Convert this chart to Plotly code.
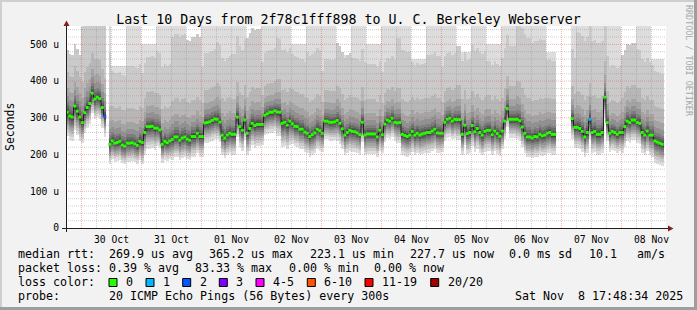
import plotly.graph_objects as go
import pandas as pd

# ---------------- data ----------------
T0 = pd.Timestamp("2025-10-29 17:48:34")
T1 = pd.Timestamp("2025-11-08 17:48:34")

# hourly median RTT (microseconds), 240 bins, None = no data
median_us = [
    315, 305, 302, 332, 318, 302, 287, 314, 328, 339, 367, 351, 356, 352, 328, 304, None, 228, 237, 231,
    233, 236, 226, 223, 231, 231, 232, 229, 225, 236, 233, 260, 276, 276, 277, 272, 272, 267, 228, 236,
    232, 237, 241, 248, 248, 239, 245, 248, 242, 239, 249, 249, 258, 249, 249, 286, 287, 289, 293, 297,
    296, 288, 253, 245, 253, 258, 255, 255, 302, 276, 266, 294, 258, 271, 285, 279, 282, 282, 282, 307,
    311, 315, 315, 319, 316, 315, 285, 288, 280, 291, 284, 277, 276, 269, 269, 261, 258, 249, 254, 259,
    269, 265, 258, 291, 291, 288, 288, 289, 293, 285, 270, 253, 260, 266, 263, 262, 259, 254, 288, 253,
    256, 256, 256, 256, 248, 266, 254, 283, 294, 291, 299, 288, 286, 287, 255, 252, 249, 253, 263, 253,
    258, 253, 256, 258, 260, 260, 264, 269, 259, 258, 258, 288, 296, 299, 291, 296, 295, 295, 255, 280,
    257, 260, 279, 262, 271, 260, 253, 263, 266, 266, 254, 264, 257, 250, 264, 291, 325, 296, 296, 296,
    296, 292, 275, 258, 248, 248, 245, 249, 248, 255, 251, 253, 258, 260, 255, 255, None, None, None, None,
    None, None, 298, 274, 274, 271, 263, 248, 260, 296, 260, 263, 255, 255, 260, 356, 287, 258, 263, 260,
    255, 260, 260, 276, 291, 287, 294, 294, 287, 285, 260, 253, 264, 253, 253, 237, 234, 231, 228, None,
]
loss_bins = [15, 209]
loss_counts = [2, 1]

# smoke envelope per 6-hour block (40 blocks)
blk_down = [65, 55, 55, 50, 50, 60, 50, 55, 55, 55, 55, 55, 60, 55, 65, 55, 55, 50, 55, 55,
            55, 50, 55, 55, 55, 50, 55, 55, 55, 50, 55, 55, 55, 55, 55, 55, 50, 55, 55, 60]
blk_up18 = [110, 110, 105, 95, 95, 95, 95, 105, 100, 90, 100, 95, 100, 80, 90, 95, 95, 85, 95, 95,
            95, 85, 95, 95, 95, 85, 95, 95, 95, 90, 105, 100, 95, 90, 100, 100, 85, 95, 95, 95]
blk_up19 = [170, 260, 250, 190, 210, 190, 210, 280, 270, 190, 210, 220, 260, 170, 200, 190, 220, 170, 210, 200,
            190, 170, 230, 190, 210, 180, 200, 220, 190, 200, 270, 260, 200, 190, 260, 250, 180, 210, 200, 190]
blk_top = [470, 560, 560, 440, 560, 500, 560, 560, 480, 560, 560, 560, 470, 560, 560, 500, 560, 560, 470, 560,
           500, 560, 560, 460, 560, 560, 480, 560, 500, 560, 560, 560, 480, 560, 560, 560, 560, 470, 560, 460]
# typical ping spread shape (fraction of envelope) for pings 1..10 below and 11..17 above
below_frac = [1.0, 0.82, 0.69, 0.58, 0.47, 0.36, 0.27, 0.18, 0.11, 0.04]
above_frac = [0.02, 0.06, 0.11, 0.17, 0.25, 0.40, 0.60]

y_ticks = [0, 100, 200, 300, 400, 500]
y_ticktext = ["0", "100 u", "200 u", "300 u", "400 u", "500 u"]

rtt_stats = ["269.9", "365.2", "223.1", "227.7"]
rtt_labels = ["avg", "max", "min", "now"]
sd_ms = "0.0"
am_s = "10.1"
loss_stats = ["0.39", "83.33", "0.00", "0.00"]
loss_labels = ["avg", "max", "min", "now"]
loss_legend = ["0", "1", "2", "3", "4-5", "6-10", "11-19", "20/20"]
loss_legend_colors = ["#26ff00", "#00b8ff", "#0059ff", "#7e00ff", "#ff00ff", "#ff5500", "#ff0000", "#a10000"]
title = "Last 10 Days from 2f78c1fff898 to U. C. Berkeley Webserver"
probe_text = "20 ICMP Echo Pings (56 Bytes) every 300s"
stamp = "Sat Nov  8 17:48:34 2025"

# ---------------- geometry ----------------
W, H = 697, 310
PL, PR, PT, PB = 66, 666, 26, 228
MONO = "DejaVu Sans Mono"


def fx(px):
    return (px - PL) / (PR - PL)


def fy(py):
    return (PB - py) / (PB - PT)


NB = len(median_us)
bin_t = [T0 + pd.Timedelta(minutes=30 + 60 * k) for k in range(NB)]

fig = go.Figure()

# smoke layers (outer -> inner)
layers_base = [[None] * NB for _ in range(10)]
layers_h = [[None] * NB for _ in range(10)]
for k, m in enumerate(median_us):
    if m is None:
        continue
    j = k // 6
    lows = [m - blk_down[j] * f for f in below_frac]
    highs = [m + blk_up18[j] * f for f in above_frac]
    highs += [m + blk_up18[j], m + blk_up19[j], max(blk_top[j], m + blk_up19[j])]
    pings = lows + highs
    for i in range(10):
        layers_base[i][k] = pings[i]
        layers_h[i][k] = pings[19 - i] - pings[i]

for i in range(10):
    g = int(190 / 10 * (10 - (i + 1))) + 50
    col = "#%02x%02x%02x" % (g, g, g)
    fig.add_trace(go.Bar(x=bin_t, y=layers_h[i], base=layers_base[i], width=3600000,
                         marker=dict(color=col, line=dict(width=0)), hoverinfo="skip",
                         showlegend=False))

# median line + loss coloured markers
fig.add_trace(go.Scatter(x=bin_t, y=median_us, mode="lines", line=dict(color="#202020", width=1, shape="hvh"),
                         connectgaps=False, hoverinfo="skip", showlegend=False))
mcolors = ["#26ff00"] * NB
for b, c in zip(loss_bins, loss_counts):
    mcolors[b] = loss_legend_colors[c]
fig.add_trace(go.Scatter(x=bin_t, y=median_us, mode="markers",
                         marker=dict(symbol="square", size=3, color=mcolors, line=dict(width=0)),
                         hoverinfo="skip", showlegend=False))

shapes = []
MAJ = "rgba(222,79,79,0.42)"
MIN = "rgba(143,143,143,0.42)"
# grid over the data (rrdtool draws grid on top)
t = pd.Timestamp("2025-10-29 18:00")
while t < T1:
    major = t.hour == 0
    shapes.append(dict(type="line", xref="x", yref="paper", x0=t, x1=t, y0=0, y1=1, layer="above",
                       line=dict(color=MAJ if major else MIN, width=1, dash="1px,1px")))
    t += pd.Timedelta(hours=6)
for v in range(20, 560, 20):
    major = v % 100 == 0
    shapes.append(dict(type="line", xref="paper", yref="y", x0=0, x1=1, y0=v, y1=v, layer="above",
                       line=dict(color=MAJ if major else MIN, width=1, dash="1px,1px")))
# axes with arrows
shapes.append(dict(type="line", xref="paper", yref="paper", x0=fx(62), x1=fx(669), y0=fy(228.5), y1=fy(228.5),
                   line=dict(color="#1f1f1f", width=1)))
shapes.append(dict(type="line", xref="paper", yref="paper", x0=fx(66.5), x1=fx(66.5), y0=fy(232), y1=fy(24),
                   line=dict(color="#1f1f1f", width=1)))
shapes.append(dict(type="path", xref="paper", yref="paper",
                   path="M %f %f L %f %f L %f %f Z" % (fx(668), fy(225.5), fx(673.5), fy(228.5), fx(668), fy(231.5)),
                   fillcolor="#801f1f", line=dict(width=0)))
shapes.append(dict(type="path", xref="paper", yref="paper",
                   path="M %f %f L %f %f L %f %f Z" % (fx(63.5), fy(26), fx(66.5), fy(20.5), fx(69.5), fy(26)),
                   fillcolor="#801f1f", line=dict(width=0)))
# 3d frame
shapes.append(dict(type="rect", xref="paper", yref="paper", x0=fx(0), x1=fx(W), y0=fy(0), y1=fy(2),
                   fillcolor="#cfcfcf", line=dict(width=0)))
shapes.append(dict(type="rect", xref="paper", yref="paper", x0=fx(0), x1=fx(2), y0=fy(0), y1=fy(H),
                   fillcolor="#cfcfcf", line=dict(width=0)))
shapes.append(dict(type="rect", xref="paper", yref="paper", x0=fx(W - 3), x1=fx(W), y0=fy(0), y1=fy(H),
                   fillcolor="#9e9e9e", line=dict(width=0)))
shapes.append(dict(type="rect", xref="paper", yref="paper", x0=fx(0), x1=fx(W), y0=fy(H - 3), y1=fy(H),
                   fillcolor="#9e9e9e", line=dict(width=0)))

# legend boxes
box_x = [109, 146, 182.7, 219.3, 256, 307.3, 365, 430.7]
for bx, col in zip(box_x, loss_legend_colors):
    shapes.append(dict(type="rect", xref="paper", yref="paper", x0=fx(bx), x1=fx(bx + 8), y0=fy(278.5),
                       y1=fy(286.5), fillcolor=col, line=dict(color="black", width=1)))

ann = []


def txt(s, x, y, size=11.65, color="black", anchor="left", angle=0):
    ann.append(dict(text=s.replace(" ", "\u00a0"), x=fx(x), y=fy(y), xref="paper", yref="paper",
                    xanchor=anchor, yanchor="middle", showarrow=False, textangle=angle,
                    font=dict(family=MONO, size=size, color=color)))


L1, L2, L3, L4 = 254.3, 268.3, 282.3, 296.0
txt("median rtt:", 16, L1)
for s, lab, x in zip(rtt_stats, rtt_labels, [107.3, 207.3, 308, 407.7]):
    txt(f"{s} us {lab}", x, L1)
txt(f"{sd_ms} ms sd", 507.3, L1)
txt(am_s, 586.7, L1)
txt("am/s", 635, L1)
txt("packet loss:", 16, L2)
for s, lab, x in zip(loss_stats, loss_labels, [107.3, 193.3, 286.7, 372.3]):
    txt(f"{s} % {lab}", x, L2)
txt("loss color:", 16, L3)
for bx, lab in zip(box_x, loss_legend):
    txt(lab, bx + 15, L3)
txt("probe:", 16, L4)
txt(probe_text, 107.3, L4)
txt(stamp, 513.3, L4)
txt("Seconds", 10, 127, size=11.5, angle=-90, anchor="center")
txt("RRDTOOL / TOBI OETIKER", 689, 61, size=8.4, color="#a8a8a8", anchor="center", angle=90)

fig.update_layout(
    width=W, height=H,
    margin=dict(l=PL, r=W - PR, t=PT, b=H - PB, pad=0),
    paper_bgcolor="#f2f2f2", plot_bgcolor="white",
    barmode="overlay", bargap=0, bargroupgap=0,
    showlegend=False,
    title=dict(text=title.replace(" ", "\u00a0"), x=0.5, xref="container", xanchor="center",
               y=1 - 19 / H, yref="container", yanchor="middle",
               font=dict(family=MONO, size=13.3, color="black")),
    xaxis=dict(type="date", range=[T0, T1], showgrid=False, zeroline=False, showline=False,
               tickformat="%d %b", ticklabelmode="period", dtick=86400000, tick0="2025-10-30",
               ticks="outside", ticklen=2, tickcolor="rgba(0,0,0,0)",
               tickfont=dict(family=MONO, size=9.7, color="black")),
    yaxis=dict(range=[0, 550], showgrid=False, zeroline=False, showline=False,
               tickvals=y_ticks, ticktext=y_ticktext, ticks="outside", ticklen=4,
               tickcolor="rgba(0,0,0,0)", tickfont=dict(family=MONO, size=9.7, color="black")),
    shapes=shapes, annotations=ann,
)

fig.write_html("out.html")
